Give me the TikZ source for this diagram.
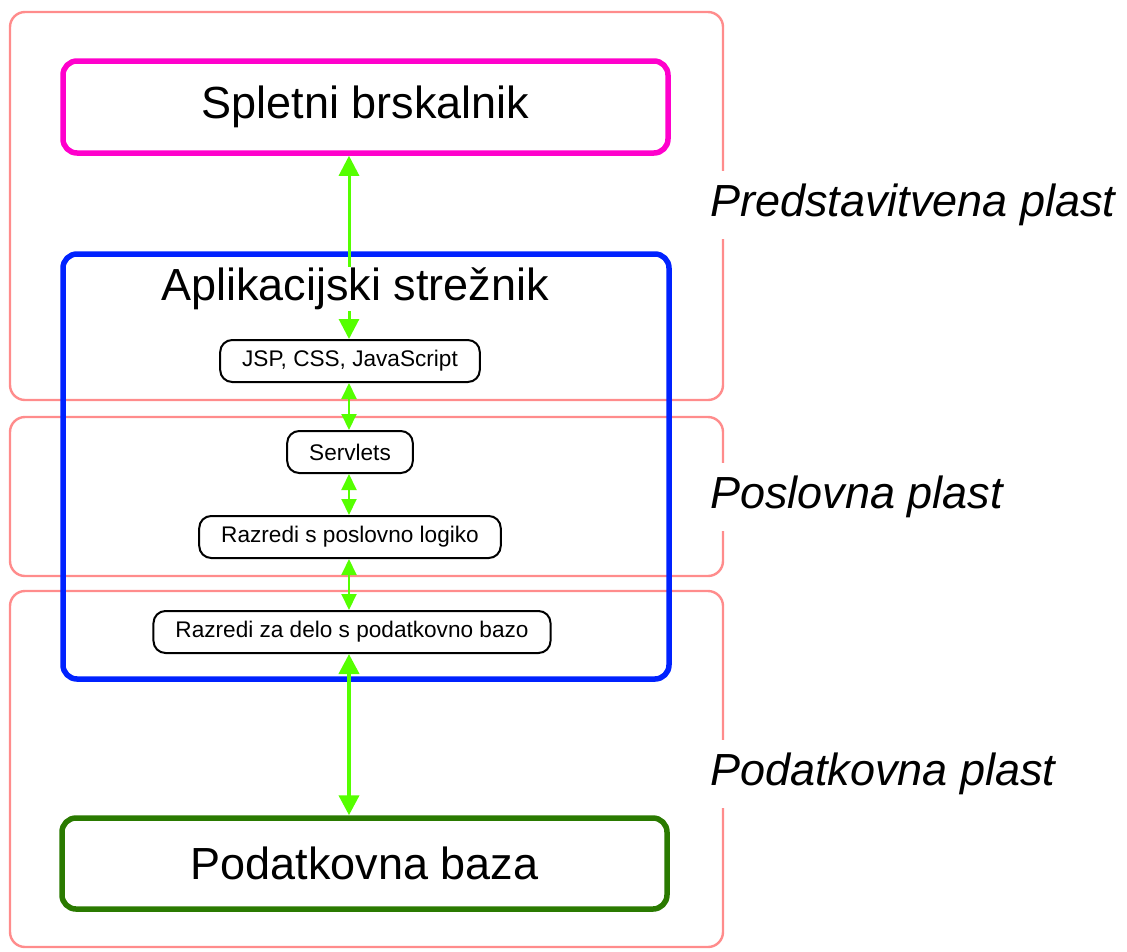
\documentclass[tikz,border=0pt]{standalone}
\usepackage{fontspec}
\setmainfont{Liberation Sans}
\usepackage{tikz}
\usetikzlibrary{arrows.meta}

\definecolor{layerred}{RGB}{255,140,140}
\definecolor{browsermag}{RGB}{255,0,204}
\definecolor{serverblue}{RGB}{0,34,255}
\definecolor{dbgreen}{RGB}{42,122,0}
\definecolor{linkgreen}{RGB}{85,255,0}

\tikzset{
  layer/.style={draw=layerred, line width=2.4, rounded corners=15},
  layerlabel/.style={anchor=west, fill=white, inner xsep=2, inner ysep=13,
    font=\fontsize{45}{50}\selectfont\itshape},
  bigbox/.style={draw=#1, line width=5.5, rounded corners=14,
    font=\fontsize{45}{50}\selectfont},
  smallbox/.style={draw=black, line width=2, rounded corners=12, fill=white,
    inner xsep=22, minimum height=42, font=\fontsize{22.6}{27}\selectfont},
  link/.style={draw=linkgreen, line width=3,
    -{Triangle[width=20,length=20]}},
  thinlink/.style={draw=linkgreen, line width=2,
    {Triangle[width=15,length=16]}-{Triangle[width=15,length=16]}},
  thicklink/.style={draw=linkgreen, line width=4,
    {Triangle[width=20,length=20]}-{Triangle[width=20,length=20]}},
}

\begin{document}
\begin{tikzpicture}[x=1pt,y=1pt,yscale=-1]
\useasboundingbox (0,0) rectangle (1127,951);

% layers
\draw[layer] (10,12) rectangle (723,400);
\draw[layer] (10,417) rectangle (723,576);
\draw[layer] (10,591) rectangle (723,947);

% layer labels
\node[layerlabel] (presentation) at (708,205) {Predstavitvena plast};
\node[layerlabel] (business) at (708,497) {Poslovna plast};
\node[layerlabel] (data) at (708,774) {Podatkovna plast};

% browser, application server, database
\node[bigbox=browsermag, minimum width=605, minimum height=92] (browser) at (365.5,107) {Spletni brskalnik};
\node[bigbox=serverblue, minimum width=606, minimum height=425] (server) at (366,466.5) {};
\node[bigbox=dbgreen, minimum width=605, minimum height=91] (database) at (364.5,863.5) {Podatkovna baza};

% inside the server
\node[font=\fontsize{45}{50}\selectfont, inner sep=1] (servertitle) at (355,289) {Aplikacijski strežnik};
\node[smallbox] (jsp) at (350,361) {JSP, CSS, JavaScript};
\node[smallbox] (servlets) at (350,452) {Servlets};
\node[smallbox] (logic) at (350,537) {Razredi s poslovno logiko};
\node[smallbox] (dbclasses) at (352,632) {Razredi za delo s podatkovno bazo};

% connectors
\coordinate (axis) at (349,0);
\draw[link] (servertitle.north -| axis) -- (browser.south -| axis);
\draw[link] (servertitle.south -| axis) -- (jsp.north -| axis);
\draw[thinlink] (jsp.south -| axis) -- (servlets.north -| axis);
\draw[thinlink] (servlets.south -| axis) -- (logic.north -| axis);
\draw[thinlink] (logic.south -| axis) -- (dbclasses.north -| axis);
\draw[thicklink] (dbclasses.south -| axis) -- (database.north -| axis);

\end{tikzpicture}
\end{document}
